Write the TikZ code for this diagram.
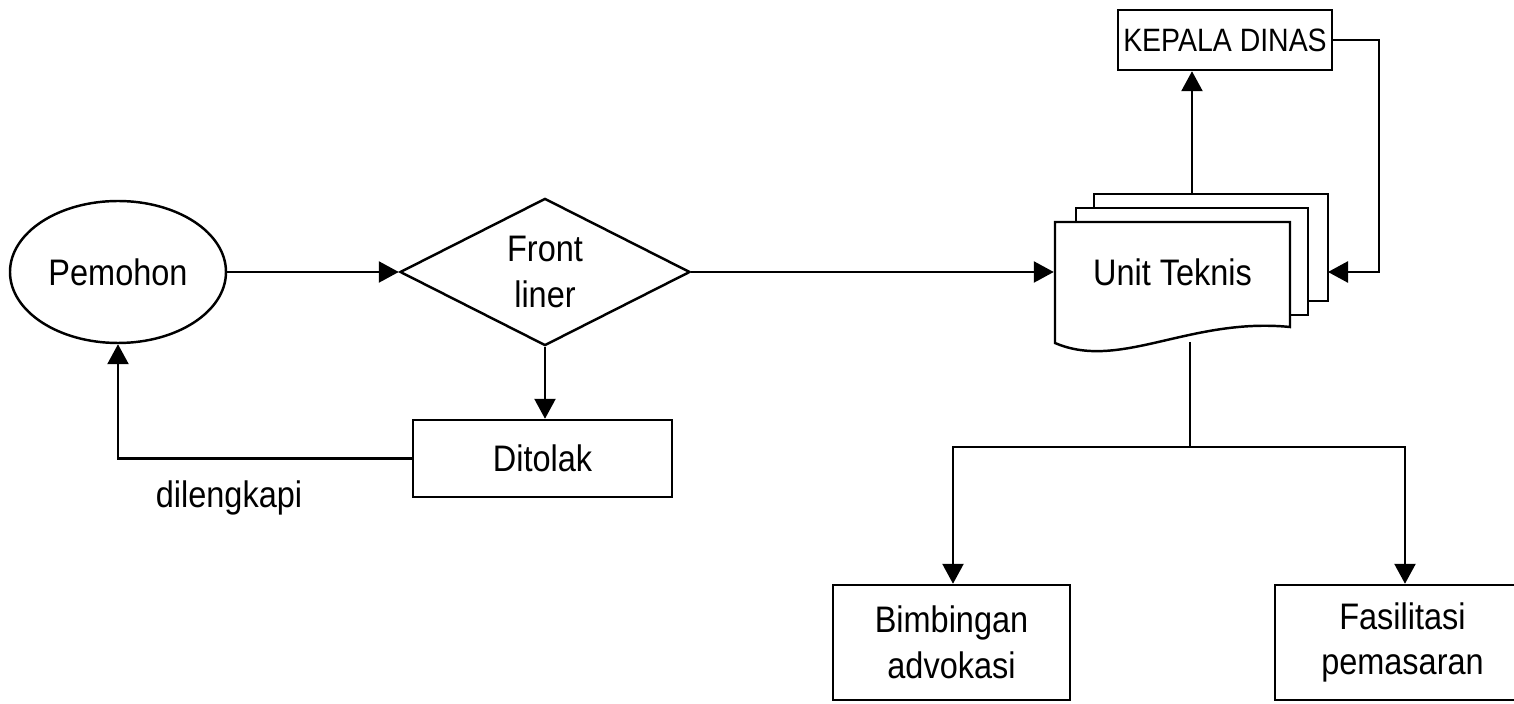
\documentclass[tikz,border=0pt]{standalone}
\usepackage{fontspec}
\setmainfont[FakeStretch=0.88]{Liberation Sans}
\usepackage{tikz}
\usetikzlibrary{shapes.geometric,arrows.meta,positioning}

\begin{document}
\begin{tikzpicture}[
  >={Triangle[length=2mm,width=2.1mm]},
  line width=0.7pt,
  font=\fontsize{10.5}{13}\selectfont,
  actor/.style={draw, ellipse, minimum width=2.16cm, minimum height=1.42cm, inner sep=0pt},
  decision/.style={draw, diamond, align=center, minimum width=2.9cm, minimum height=1.44cm, inner sep=0pt},
  box/.style={draw, align=center, inner sep=0pt},
  doctext/.style={align=center, minimum width=2.35cm, minimum height=1.0cm, inner sep=0pt},
  lbl/.style={inner sep=1pt}
]
\useasboundingbox (0,0) rectangle (15.14,7.04);
\clip (0,0) rectangle (15.14,7.04);

% Nodes
\node[actor] (pemohon) at (1.18,4.32) {Pemohon};
\node[decision] (front) at (5.45,4.32) {Front\\liner};
\node[box, minimum width=2.59cm, minimum height=0.77cm] (ditolak) at (5.425,2.455) {Ditolak};
\node[lbl] (lengkap) at (2.29,2.06) {dilengkapi};

% Unit Teknis (multi document)
\node[doctext] (unit) at (11.725,4.32) {Unit Teknis};
\draw (10.55,4.82) -- (12.90,4.82) -- (12.90,3.77)
  .. controls (11.9,3.87) and (11.2,3.33) .. (10.55,3.61) -- cycle;
\draw (10.76,4.82) -- (10.76,4.96) -- (13.08,4.96) -- (13.08,3.89) -- (12.90,3.89);
\draw (10.94,4.96) -- (10.94,5.10) -- (13.28,5.10) -- (13.28,4.03) -- (13.08,4.03);
\coordinate (unittop) at (11.92,5.10);
\coordinate (unitback) at (13.28,4.32);
\coordinate (unitbot) at (11.90,3.62);
\coordinate (split) at (11.90,2.57);

\node[box, minimum width=2.14cm, minimum height=0.60cm, font=\fontsize{9.2}{11}\selectfont] (kepala) at (12.25,6.64) {KEPALA DINAS};
\node[box, minimum width=2.37cm, minimum height=1.15cm] (bimbingan) at (9.515,0.615) {Bimbingan\\advokasi};
\node[box, minimum width=2.55cm, minimum height=1.15cm] (fasilitasi) at (14.025,0.615) {Fasilitasi\\pemasaran};

% Connectors
\draw[->] (pemohon.east) -- (front.west);
\draw[->] (front.south) -- (front.south |- ditolak.north);
\draw[->] (ditolak.west) -| (pemohon.south);
\draw[->] (front.east) -- (unit.west);
\draw[->] (unittop) -- (unittop |- kepala.south);
\draw[->] (kepala.east) -- ++(0.46,0) |- (unitback);
\draw (unitbot) -- (split);
\draw[->] (split) -| (9.53,0 |- bimbingan.north);
\draw[->] (split) -| (14.05,0 |- fasilitasi.north);

\end{tikzpicture}
\end{document}
